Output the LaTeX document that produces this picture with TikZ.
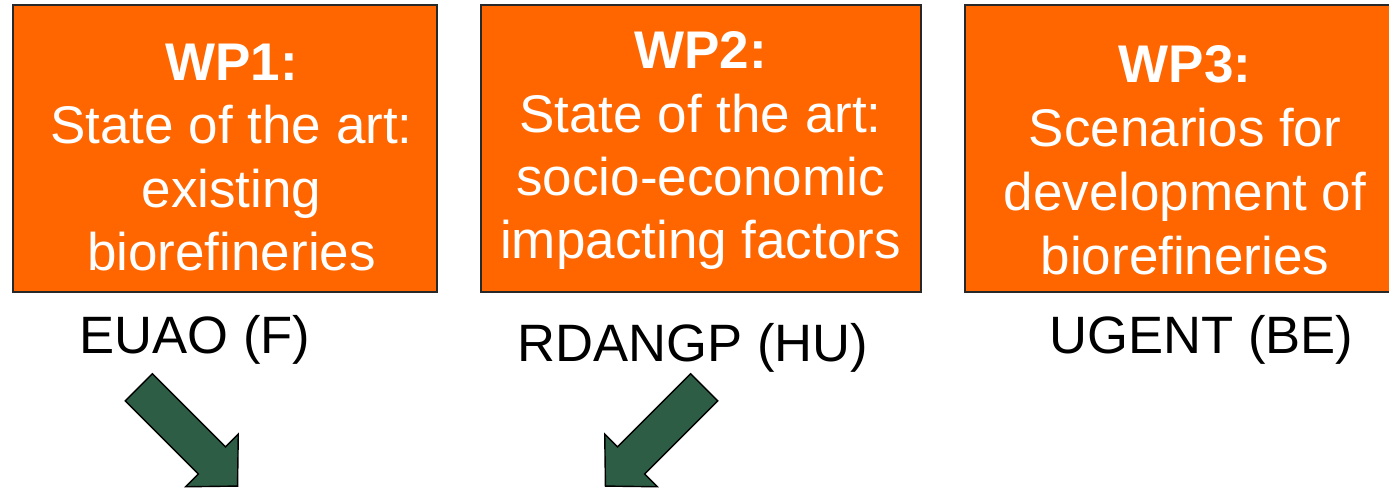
\documentclass[tikz,border=0pt]{standalone}
\usepackage{fontspec}
\setmainfont{Liberation Sans}
\definecolor{wporange}{RGB}{255,102,0}
\definecolor{arrowgreen}{RGB}{45,94,69}
\definecolor{boxline}{RGB}{40,40,40}
\tikzset{
  wpbox/.style={draw=boxline, line width=1.4pt, fill=wporange, inner sep=0pt},
  wptext/.style={text=white, inner sep=0pt, anchor=base, font=\fontsize{53}{63}\selectfont},
  partner/.style={text=black, inner sep=0pt, anchor=base, font=\fontsize{52.6}{63}\selectfont},
  blockarrow/.style={draw=black, line width=1.4pt, fill=arrowgreen, line join=miter}
}
\begin{document}
\begin{tikzpicture}[x=1pt,y=-1pt]
\clip (0,0) rectangle (1389,488);
\fill[white] (0,0) rectangle (1389,488);
% boxes
\node[wpbox, minimum width=424pt, minimum height=287pt] (b1) at (225,148.5) {};
\node[wpbox, minimum width=440pt, minimum height=287pt] (b2) at (701,148.5) {};
\node[wpbox, minimum width=428pt, minimum height=287pt] (b3) at (1179,148.5) {};
% box 1 text
\node[wptext] (t1a) at (231.5,80) {\bfseries WP1:};
\node[wptext] (t1b) at (231.5,143) {State of the art:};
\node[wptext] (t1c) at (231.5,207) {existing};
\node[wptext] (t1d) at (231.5,270) {biorefineries};
% box 2 text
\node[wptext] (t2a) at (700.5,68) {\bfseries WP2:};
\node[wptext] (t2b) at (700.5,132) {State of the art:};
\node[wptext] (t2c) at (700.5,195) {socio-economic};
\node[wptext] (t2d) at (700.5,258) {impacting factors};
% box 3 text
\node[wptext] (t3a) at (1185,82) {\bfseries WP3:};
\node[wptext] (t3b) at (1185,146) {Scenarios for};
\node[wptext] (t3c) at (1185,210) {development of};
\node[wptext] (t3d) at (1185,274) {biorefineries};
% partner labels
\node[partner] (p1) at (195,353) {EUAO (F)};
\node[partner] (p2) at (693,361.7) {RDANGP (HU)};
\node[partner] (p3) at (1201.5,353.3) {UGENT (BE)};
% block arrows
\draw[blockarrow] (152.46,373.74) -- (225.5,446.78) -- (238.26,434.02) -- (237.56,486.06)
  -- (185.52,486.76) -- (198.28,474.0) -- (125.24,400.96) -- cycle;
\draw[blockarrow] (690.54,373.74) -- (617.5,446.78) -- (604.74,434.02) -- (605.44,486.06)
  -- (657.48,486.76) -- (644.72,474.0) -- (717.76,400.96) -- cycle;
\end{tikzpicture}
\end{document}
